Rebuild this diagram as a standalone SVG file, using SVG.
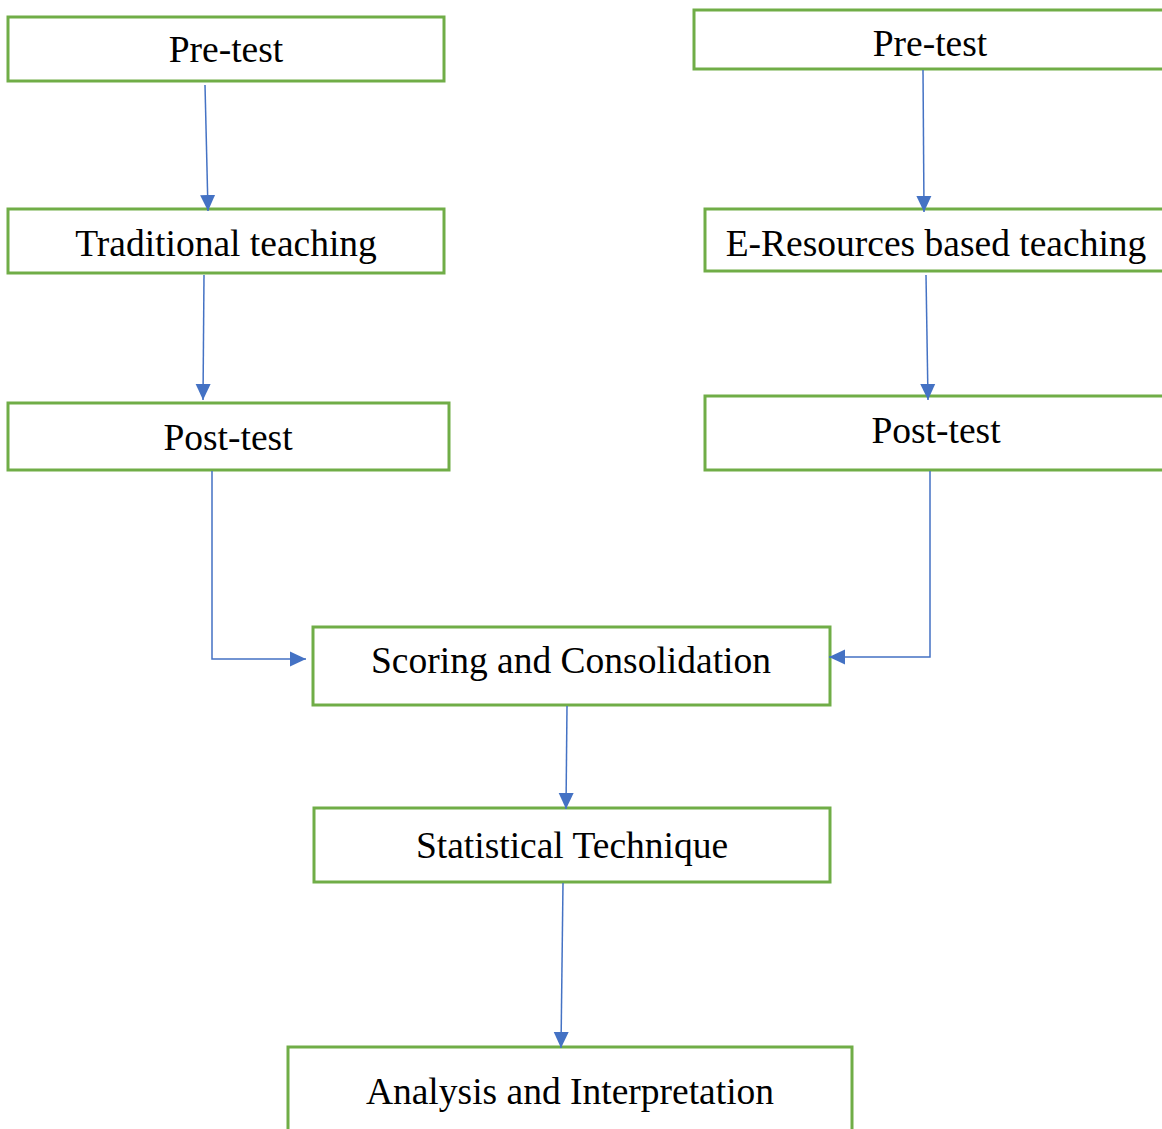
<svg xmlns="http://www.w3.org/2000/svg" width="1162" height="1129" viewBox="0 0 1162 1129">
<style>
.box{fill:#fff;stroke:#70AD47;stroke-width:3}
.lbl{font-family:"Liberation Serif","Times New Roman",serif;font-size:37.5px;fill:#000;text-anchor:middle}
.con{fill:none;stroke:#4472C4;stroke-width:1.5}
</style>
<defs>
<marker id="ah" markerUnits="userSpaceOnUse" markerWidth="18" markerHeight="18" viewBox="0 0 18 18" refX="16" refY="9" orient="auto">
<path d="M0,1.5 L16,9 L0,16.5 Z" fill="#4472C4"/>
</marker>
</defs>
<rect width="1162" height="1129" fill="#fff"/>
<g id="n-pre-left"><rect class="box" x="8" y="17" width="436" height="64"/><text class="lbl" x="226" y="62">Pre-test</text></g>
<g id="n-trad"><rect class="box" x="8" y="209" width="436" height="64"/><text class="lbl" x="226" y="256">Traditional teaching</text></g>
<g id="n-post-left"><rect class="box" x="8" y="403" width="441" height="67"/><text class="lbl" x="228" y="450">Post-test</text></g>
<g id="n-pre-right"><rect class="box" x="694" y="10" width="480" height="59"/><text class="lbl" x="930" y="56">Pre-test</text></g>
<g id="n-eres"><rect class="box" x="705" y="209" width="469" height="62"/><text class="lbl" x="936" y="256">E-Resources based teaching</text></g>
<g id="n-post-right"><rect class="box" x="705" y="396" width="469" height="74"/><text class="lbl" x="936" y="443">Post-test</text></g>
<g id="n-scoring"><rect class="box" x="313" y="627" width="517" height="78"/><text class="lbl" x="571" y="673">Scoring and Consolidation</text></g>
<g id="n-stat"><rect class="box" x="314" y="808" width="516" height="74"/><text class="lbl" x="572" y="858">Statistical Technique</text></g>
<g id="n-analysis"><rect class="box" x="288" y="1047" width="564" height="100"/><text class="lbl" x="570" y="1104">Analysis and Interpretation</text></g>
<g id="connectors">
<path class="con" d="M205,85 L208,211" marker-end="url(#ah)"/>
<path class="con" d="M204,275 L203,400" marker-end="url(#ah)"/>
<path class="con" d="M923,70 L924,212" marker-end="url(#ah)"/>
<path class="con" d="M926,275 L928,400" marker-end="url(#ah)"/>
<path class="con" d="M212,471 L212,659 L306,659" marker-end="url(#ah)"/>
<path class="con" d="M930,471 L930,657 L829,657" marker-end="url(#ah)"/>
<path class="con" d="M567,706 L566,809" marker-end="url(#ah)"/>
<path class="con" d="M563,883 L561,1048" marker-end="url(#ah)"/>
</g>
</svg>
